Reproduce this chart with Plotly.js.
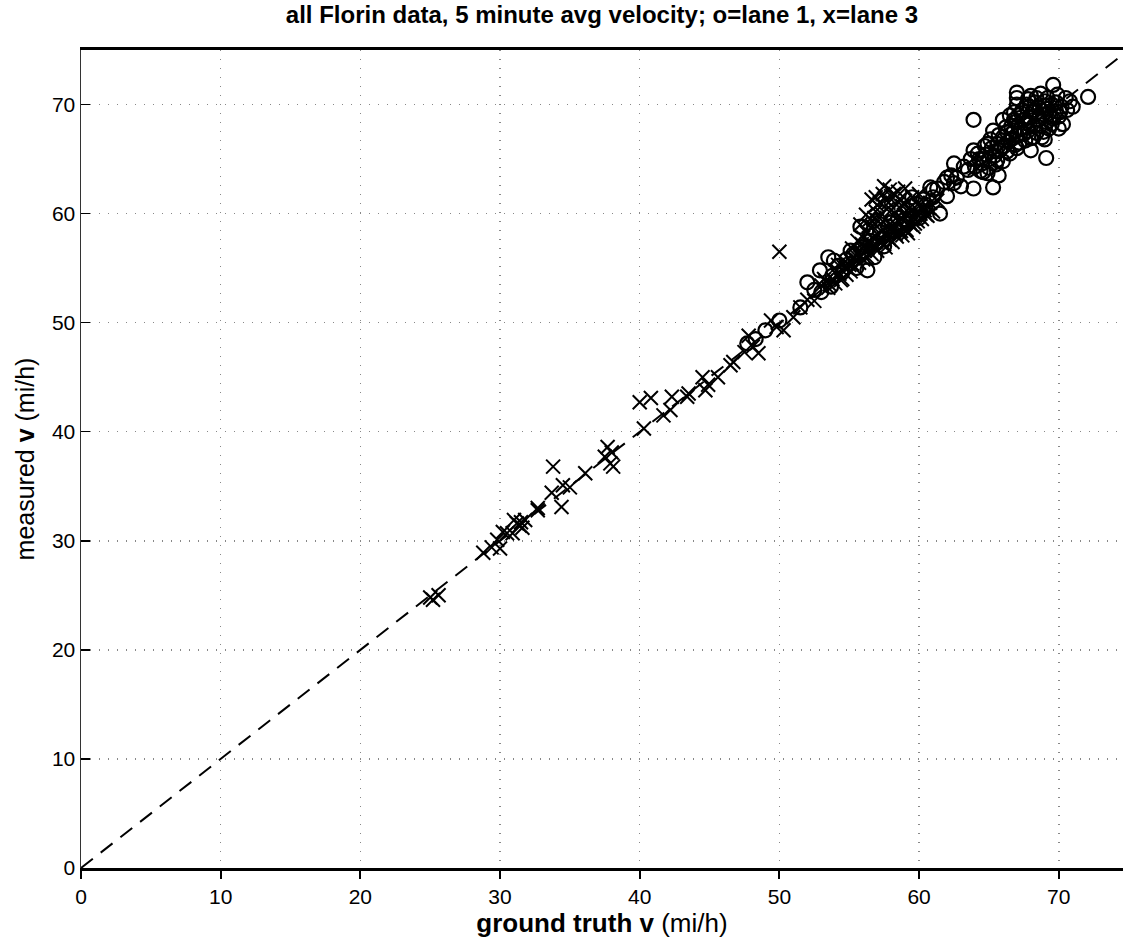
<!DOCTYPE html>
<html>
<head>
<meta charset="utf-8">
<script src="https://cdn.plot.ly/plotly-3.0.1.min.js"></script>
<style>html,body{margin:0;padding:0;background:#fff;}#chart{width:1123px;height:944px;}</style>
</head>
<body>
<div id="chart"></div>
<script>
// Lane 3 (x markers): ground truth vs measured velocity (mi/h)
var lane3_gt = [25.0,25.6,25.2,28.8,29.4,30.0,29.8,30.2,30.9,31.2,31.4,31.8,31.6,31.0,31.5,30.5,32.7,32.7,
  33.8,33.7,34.4,34.5,35.0,36.1,37.7,38.0,37.9,37.5,38.1,
  40.3,40.0,40.8,41.7,42.2,42.3,43.4,43.5,44.5,44.9,44.7,45.6,46.7,46.5,47.5,48.1,48.5,47.8,49.4,49.8,50.3,51.0,51.5,50.0,52.0,52.5,53.0,
  53.5,53.8,54.0,54.3,54.5,54.6,54.8,55.0,55.1,55.3,55.4,55.6,55.7,55.9,56.0,56.1,56.2,56.3,56.4,56.5,56.6,56.7,56.8,56.9,57.0,57.1,57.2,57.3,57.4,57.5,57.6,57.7,57.8,57.9,58.0,58.1,58.2,58.3,58.4,58.5,58.6,58.7,58.8,58.9,59.0,59.1,59.2,59.3,59.4,59.5,59.6,59.8,59.9,60.0,60.2,60.4,60.6,60.8,61.0,61.3,
  55.2,56.0,54.2,53.2,57.0,58.0,59.0,57.9,56.6,55.8,58.6,60.0,
  53.3,53.6,54.1,54.4,54.7,54.9,55.2,55.5,55.8,56.0,56.3,56.5,56.7,56.9,57.1,57.3,57.5,57.7,57.9,58.1,58.3,58.5,58.7,58.9,59.1,59.3,59.5,59.7,60.1,60.3,60.5,60.7,
  56.8,57.3,57.6,58.2,58.8,56.4,57.0,57.8,55.6,56.2,59.4,58.4,57.4,56.9];
var lane3_meas = [24.8,25.0,24.6,28.9,29.4,29.3,30.1,30.8,30.7,31.6,31.4,31.9,31.2,31.9,31.7,30.7,33.0,32.8,
  36.8,34.4,33.1,35.1,34.9,36.2,38.6,38.1,37.1,37.7,36.8,
  40.3,42.7,43.1,41.5,42.0,43.2,43.2,43.5,45.0,44.3,43.8,45.0,46.4,46.1,47.3,47.8,47.2,48.8,50.2,49.6,49.3,50.5,51.4,56.5,52.1,52.0,53.4,
  53.2,54.0,53.6,54.5,54.0,55.1,54.4,55.3,54.7,55.9,55.0,56.4,55.5,57.2,55.8,56.6,58.3,56.0,57.5,59.5,56.3,58.8,57.0,60.2,56.6,58.0,61.0,57.4,59.3,62.5,56.9,60.4,57.8,59.0,61.6,57.4,58.6,60.0,57.9,62.0,58.3,59.6,58.0,61.0,58.6,59.9,58.2,60.5,59.0,61.5,58.8,60.0,59.3,60.7,59.5,60.3,59.8,61.0,60.2,61.2,
  56.8,57.8,55.3,54.0,60.8,60.3,62.3,62.2,61.3,59.0,61.3,61.8,
  53.8,53.5,54.8,53.9,55.6,55.0,55.4,56.1,56.0,57.0,56.8,57.3,57.8,56.8,57.6,58.4,57.2,58.2,57.6,58.9,58.1,59.3,58.4,59.4,58.5,59.2,59.7,59.1,60.0,60.6,59.9,60.5,
  59.6,60.0,61.3,61.8,60.7,58.9,59.4,61.0,57.5,59.9,60.2,60.8,61.8,61.5];

// Lane 1 (o markers)
var lane1_gt = [47.7,48.3,49.0,50.0,51.5,52.0,52.9,53.5,53.9,53.7,55.1,55.8,56.3,57.0,58.0,59.5,60.8,61.5,61.3,62.0,62.5,62.7,63.9,63.9,64.9,65.3,65.7,63.9,65.3,67.0,67.0,68.7,69.6,72.1,70.5,71.0,70.0,69.1,
  54.5,55.5,56.0,56.8,57.5,58.3,59.0,60.0,60.5,61.0,62.0,62.5,63.0,63.5,
  64.0,64.3,64.5,64.8,65.0,65.2,65.4,65.6,65.8,66.0,66.1,66.3,66.4,66.6,66.7,66.9,67.0,67.1,67.2,67.3,67.4,67.5,67.6,67.7,67.8,67.9,68.0,68.1,68.2,68.3,68.4,68.5,68.6,68.7,68.8,68.9,69.0,69.1,69.2,69.3,69.4,69.5,69.6,69.8,70.0,70.2,
  66.5,65.5,67.0,68.0,66.0,64.6,67.8,66.8,69.0,70.3,
  52.5,53.0,53.8,54.2,54.8,55.3,55.9,56.5,57.2,57.8,58.5,59.2,59.8,60.3,61.0,61.8,62.3,63.2,63.7,64.2,64.7,65.1,65.7,66.2,66.8,67.3,67.9,68.4,69.2,69.9,
  64.4,65.0,65.6,66.3,66.9,67.6,68.2,68.9,69.5,70.1,64.9,65.9,66.6,67.2,67.9,68.6,69.3,69.8,66.0,66.8,67.5,68.3,69.0,67.0,68.0,70.6,70.8,66.5,65.5,64.5];
var lane1_meas = [48.1,48.5,49.3,50.2,51.4,53.7,54.8,56.0,55.7,53.3,56.6,58.8,54.8,57.3,59.2,61.5,62.4,60.0,62.3,63.3,64.6,63.3,62.3,65.8,63.7,62.4,63.5,68.6,67.6,71.1,70.6,71.0,71.8,70.7,70.6,69.8,67.8,65.1,
  54.6,55.0,56.5,56.0,57.0,58.4,59.5,59.6,60.8,61.5,61.6,62.8,62.5,64.0,
  64.3,65.0,64.6,65.4,65.0,66.0,65.3,66.4,65.8,67.0,66.2,67.5,66.6,68.0,66.9,68.4,67.2,69.0,66.5,67.8,69.5,67.3,68.3,70.0,67.6,68.8,66.9,69.3,68.0,70.2,67.4,68.6,69.7,68.1,67.0,69.1,70.3,68.4,69.6,67.8,68.9,70.0,68.7,69.4,68.9,69.8,
  65.5,64.5,66.0,65.8,64.8,63.8,70.5,69.3,66.8,68.2,
  53.0,52.8,54.3,55.2,55.8,56.3,56.9,57.5,58.3,58.8,59.6,60.3,60.9,61.3,62.2,62.9,63.5,64.3,65.0,65.5,66.2,66.8,67.2,67.9,68.6,69.2,69.8,70.6,70.6,70.9,
  63.9,64.2,64.9,65.7,66.3,66.7,67.0,67.5,68.2,69.3,66.4,66.1,67.3,67.7,68.2,68.9,69.2,70.2,68.6,67.6,68.6,69.5,69.9,70.0,70.8,69.5,70.3,69.0,65.7,65.0];

// Reference line y = x
var ref_line = [0, 75];

var traces = [
  {x: ref_line, y: ref_line, mode: 'lines', type: 'scatter',
   line: {color: '#000', width: 2, dash: '15px,10px'}, hoverinfo: 'skip'},
  {x: lane3_gt, y: lane3_meas, mode: 'markers', type: 'scatter', name: 'lane 3',
   marker: {symbol: 'x-thin-open', size: 14, color: '#000', line: {color: '#000', width: 2}}},
  {x: lane1_gt, y: lane1_meas, mode: 'markers', type: 'scatter', name: 'lane 1',
   marker: {symbol: 'circle-open', size: 14, color: '#000', line: {color: '#000', width: 2.2}}}
];

var axisFont = {family: 'Liberation Sans, Arial, sans-serif', size: 21, color: '#000'};
var titleFamily = 'Liberation Sans Narrow, Arial Narrow, Liberation Sans, Arial, sans-serif';

var layout = {
  width: 1123, height: 944,
  paper_bgcolor: '#fff', plot_bgcolor: '#fff',
  showlegend: false,
  margin: {l: 81, r: 0, t: 50, b: 76},
  title: {
    text: '<b>all Florin data, 5 minute avg velocity; o=lane 1, x=lane 3</b>',
    font: {family: titleFamily, size: 24, color: '#000'},
    x: 0.536, xanchor: 'center', y: 0.985, yanchor: 'middle', yref: 'container'
  },
  xaxis: {
    range: [0, 74.6], tickvals: [0,10,20,30,40,50,60,70], ticktext: ['0','10','20','30','40','50','60','70'],
    ticks: 'outside', ticklen: 8, tickwidth: 2, tickcolor: '#000',
    showline: true, linecolor: '#000', linewidth: 3, mirror: true,
    showgrid: true, gridcolor: '#888', griddash: '1px,8px', gridwidth: 1.5,
    zeroline: false, tickfont: axisFont, automargin: false,
    title: {text: '<b>ground truth v</b> (mi/h)', font: {family: titleFamily, size: 26, color: '#000'}, standoff: 2}
  },
  yaxis: {
    range: [0, 75], tickvals: [0,10,20,30,40,50,60,70], ticktext: ['0','10','20','30','40','50','60','70'],
    ticks: 'inside', ticklen: 9, tickwidth: 1.5, tickcolor: '#000',
    showline: true, linecolor: '#333', linewidth: 1.5, mirror: false,
    showgrid: true, gridcolor: '#888', griddash: '1px,8px', gridwidth: 1.5,
    zeroline: false, tickfont: axisFont, automargin: false,
    title: {text: 'measured <b>v</b> (mi/h)', font: {family: titleFamily, size: 25, color: '#000'}, standoff: 10}
  }
};

Plotly.newPlot('chart', traces, layout, {displayModeBar: false, staticPlot: true});
</script>
</body>
</html>
